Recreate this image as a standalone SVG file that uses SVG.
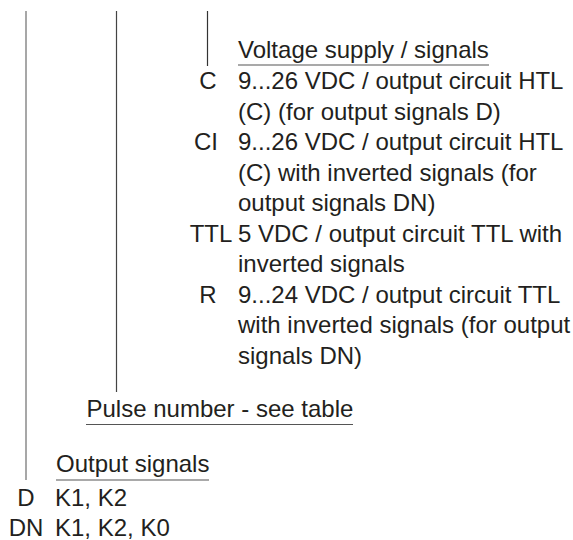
<svg xmlns="http://www.w3.org/2000/svg" width="573" height="540" viewBox="0 0 573 540">
<style>
text{font-family:"Liberation Sans",Arial,sans-serif;font-size:24px;fill:#231f20}
.c{text-anchor:middle}
.ul{stroke:#555;stroke-width:1.2}
</style>
<rect width="573" height="540" fill="#fff"/>
<g id="connectors">
<line x1="26" y1="11" x2="26" y2="480" stroke="#8a8a8a" stroke-width="1.5"/>
<line x1="116.5" y1="11" x2="116.5" y2="392" stroke="#444" stroke-width="1.2"/>
<line x1="207.5" y1="11" x2="207.5" y2="66" stroke="#333" stroke-width="1.2"/>
</g>
<g id="voltage">
<text x="238" y="58">Voltage supply / signals</text>
<line class="ul" x1="238" y1="65" x2="489" y2="65"/>
<text class="c" x="208" y="89">C</text>
<text x="238" y="89">9...26 VDC / output circuit HTL</text>
<text x="238" y="119.5">(C) (for output signals D)</text>
<text class="c" x="206" y="150">CI</text>
<text x="238" y="150">9...26 VDC / output circuit HTL</text>
<text x="238" y="180.5">(C) with inverted signals (for</text>
<text x="238" y="211">output signals DN)</text>
<text class="c" x="211" y="241.5">TTL</text>
<text x="238" y="241.5">5 VDC / output circuit TTL with</text>
<text x="238" y="272">inverted signals</text>
<text class="c" x="208" y="302.5">R</text>
<text x="238" y="302.5">9...24 VDC / output circuit TTL</text>
<text x="238" y="333">with inverted signals (for output</text>
<text x="238" y="363.5">signals DN)</text>
</g>
<g id="pulse">
<text x="86.5" y="417">Pulse number - see table</text>
<line class="ul" x1="86" y1="424.5" x2="353" y2="424.5"/>
</g>
<g id="output">
<text x="56" y="472">Output signals</text>
<line class="ul" x1="56" y1="480" x2="209" y2="480"/>
<text class="c" x="26" y="506">D</text>
<text x="55" y="506">K1, K2</text>
<text class="c" x="26" y="536">DN</text>
<text x="55" y="536">K1, K2, K0</text>
</g>
</svg>
